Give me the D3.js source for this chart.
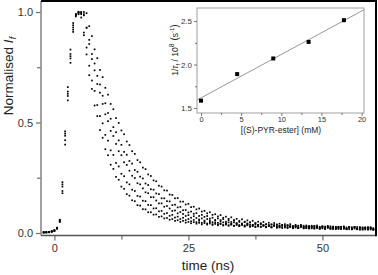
<!DOCTYPE html>
<html>
<head>
<meta charset="utf-8">
<script src="https://cdnjs.cloudflare.com/ajax/libs/d3/7.8.5/d3.min.js"></script>
<style>
body { margin: 0; background: #fff; }
svg { display: block; font-family: "Liberation Sans", Arial, sans-serif; }
</style>
</head>
<body>
<div id="chart"></div>
<script>
// time channels (ns)
var times = [-2, -1.5, -1, -0.5, 0, 0.5, 1, 1.5, 2, 2.5, 3, 3.5,
    4, 4.5, 5,
    5.5, 6, 6.5, 7, 7.5, 8, 8.5, 9, 9.5, 10,
    10.5, 11, 11.5, 12, 12.5, 13, 13.5, 14, 14.5, 15,
    15.5, 16, 16.5, 17, 17.5, 18, 18.5, 19, 19.5, 20,
    20.5, 21, 21.5, 22, 22.5, 23, 23.5, 24, 24.5, 25,
    25.5, 26, 26.5, 27, 27.5, 28, 28.5, 29, 29.5, 30,
    30.5, 31, 31.5, 32, 32.5, 33, 33.5, 34, 34.5, 35,
    35.5, 36, 36.5, 37, 37.5, 38, 38.5, 39, 39.5, 40,
    40.5, 41, 41.5, 42, 42.5, 43, 43.5, 44, 44.5, 45,
    45.5, 46, 46.5, 47, 47.5, 48, 48.5, 49, 49.5, 50,
    50.5, 51, 51.5, 52, 52.5, 53, 53.5, 54, 54.5, 55,
    55.5, 56, 56.5, 57, 57.5, 58, 58.5, 59, 59.5, 60];

// normalised intensity, one array per concentration
var decay1 = [0.003, 0.004, 0.004, 0.007, 0.010, 0.022, 0.060, 0.23, 0.46, 0.66, 0.83, 0.95,
    0.990, 1.000, 0.975,
    0.895, 0.808, 0.714, 0.652, 0.577, 0.529, 0.466, 0.431, 0.379, 0.352,
    0.309, 0.290, 0.254, 0.241, 0.210, 0.200, 0.176, 0.169, 0.148, 0.144,
    0.126, 0.124, 0.108, 0.107, 0.094, 0.094, 0.083, 0.084, 0.073, 0.075,
    0.066, 0.068, 0.060, 0.063, 0.055, 0.058, 0.050, 0.055, 0.047, 0.050,
    0.044, 0.049, 0.042, 0.046, 0.039, 0.045, 0.038, 0.043, 0.036, 0.041,
    0.035, 0.040, 0.034, 0.038, 0.033, 0.038, 0.032, 0.036, 0.031, 0.036,
    0.029, 0.035, 0.028, 0.034, 0.027, 0.033, 0.027, 0.033, 0.026, 0.032,
    0.025, 0.032, 0.024, 0.031, 0.024, 0.030, 0.023, 0.030, 0.022, 0.029,
    0.022, 0.029, 0.021, 0.028, 0.021, 0.027, 0.020, 0.027, 0.020, 0.027,
    0.019, 0.026, 0.019, 0.026, 0.018, 0.026, 0.018, 0.025, 0.018, 0.025,
    0.017, 0.025, 0.017, 0.024, 0.016, 0.024, 0.016, 0.023, 0.016, 0.023];

var decay2 = [0.002, 0.003, 0.005, 0.006, 0.012, 0.019, 0.055, 0.21, 0.44, 0.64, 0.81, 0.94,
    0.985, 0.998, 0.990,
    0.907, 0.839, 0.757, 0.690, 0.643, 0.579, 0.529, 0.496, 0.444, 0.418,
    0.374, 0.353, 0.317, 0.301, 0.268, 0.257, 0.229, 0.220, 0.196, 0.190,
    0.168, 0.165, 0.146, 0.144, 0.127, 0.126, 0.111, 0.112, 0.098, 0.100,
    0.087, 0.090, 0.078, 0.082, 0.070, 0.074, 0.063, 0.069, 0.058, 0.063,
    0.053, 0.059, 0.049, 0.055, 0.046, 0.052, 0.043, 0.050, 0.040, 0.047,
    0.039, 0.044, 0.036, 0.044, 0.035, 0.042, 0.033, 0.040, 0.032, 0.039,
    0.031, 0.038, 0.030, 0.037, 0.029, 0.036, 0.028, 0.035, 0.027, 0.034,
    0.026, 0.034, 0.025, 0.033, 0.024, 0.032, 0.024, 0.031, 0.023, 0.031,
    0.022, 0.030, 0.022, 0.030, 0.021, 0.029, 0.021, 0.028, 0.020, 0.028,
    0.020, 0.027, 0.019, 0.027, 0.019, 0.026, 0.018, 0.026, 0.018, 0.026,
    0.017, 0.025, 0.017, 0.025, 0.016, 0.024, 0.016, 0.024, 0.016, 0.024];

var decay3 = [0.004, 0.002, 0.004, 0.008, 0.011, 0.024, 0.050, 0.19, 0.42, 0.62, 0.79, 0.93,
    0.990, 1.000, 0.995,
    0.985, 0.929, 0.855, 0.787, 0.736, 0.674, 0.635, 0.584, 0.537, 0.506,
    0.462, 0.439, 0.403, 0.370, 0.352, 0.320, 0.308, 0.282, 0.259, 0.249,
    0.225, 0.220, 0.202, 0.184, 0.180, 0.162, 0.162, 0.147, 0.134, 0.134,
    0.119, 0.122, 0.111, 0.100, 0.102, 0.089, 0.095, 0.086, 0.077, 0.081,
    0.069, 0.076, 0.068, 0.061, 0.066, 0.056, 0.063, 0.056, 0.049, 0.056,
    0.046, 0.054, 0.048, 0.042, 0.048, 0.039, 0.048, 0.042, 0.036, 0.043,
    0.034, 0.043, 0.037, 0.031, 0.039, 0.030, 0.039, 0.034, 0.028, 0.036,
    0.027, 0.036, 0.031, 0.025, 0.033, 0.025, 0.034, 0.029, 0.023, 0.031,
    0.023, 0.032, 0.027, 0.022, 0.029, 0.021, 0.031, 0.025, 0.020, 0.028,
    0.019, 0.029, 0.024, 0.019, 0.026, 0.018, 0.028, 0.023, 0.017, 0.025,
    0.017, 0.027, 0.021, 0.016, 0.024, 0.016, 0.025, 0.020, 0.015, 0.023];

var decay4 = [0.002, 0.004, 0.003, 0.006, 0.009, 0.020, 0.058, 0.22, 0.45, 0.63, 0.80, 0.92,
    0.985, 0.995, 1.000,
    0.990, 0.929, 0.874, 0.810, 0.767, 0.711, 0.672, 0.621, 0.587, 0.543,
    0.517, 0.479, 0.456, 0.419, 0.399, 0.367, 0.354, 0.326, 0.314, 0.285,
    0.277, 0.255, 0.247, 0.224, 0.217, 0.198, 0.196, 0.179, 0.176, 0.157,
    0.157, 0.144, 0.143, 0.126, 0.128, 0.116, 0.118, 0.103, 0.104, 0.093,
    0.097, 0.087, 0.090, 0.077, 0.082, 0.073, 0.077, 0.065, 0.069, 0.059,
    0.066, 0.058, 0.063, 0.051, 0.058, 0.050, 0.056, 0.045, 0.050, 0.041,
    0.049, 0.042, 0.048, 0.036, 0.044, 0.037, 0.044, 0.034, 0.039, 0.031,
    0.039, 0.033, 0.039, 0.028, 0.037, 0.030, 0.036, 0.027, 0.032, 0.025,
    0.033, 0.027, 0.033, 0.023, 0.032, 0.025, 0.032, 0.022, 0.028, 0.021,
    0.029, 0.023, 0.030, 0.019, 0.028, 0.022, 0.028, 0.019, 0.025, 0.017,
    0.026, 0.020, 0.027, 0.016, 0.025, 0.019, 0.026, 0.016, 0.022, 0.015];

var decay5 = [0.003, 0.003, 0.005, 0.007, 0.013, 0.023, 0.052, 0.18, 0.40, 0.60, 0.77, 0.91,
    0.980, 0.990, 0.998,
    1.000, 0.995, 0.936, 0.891, 0.831, 0.791, 0.738, 0.705, 0.657, 0.626,
    0.584, 0.560, 0.520, 0.498, 0.464, 0.447, 0.414, 0.398, 0.370, 0.358,
    0.330, 0.320, 0.296, 0.289, 0.265, 0.258, 0.238, 0.234, 0.214, 0.210,
    0.193, 0.192, 0.174, 0.172, 0.157, 0.158, 0.142, 0.142, 0.129, 0.132,
    0.117, 0.119, 0.107, 0.111, 0.097, 0.100, 0.089, 0.094, 0.082, 0.085,
    0.075, 0.081, 0.069, 0.074, 0.064, 0.071, 0.059, 0.064, 0.055, 0.062,
    0.051, 0.057, 0.048, 0.055, 0.045, 0.051, 0.042, 0.050, 0.040, 0.046,
    0.038, 0.045, 0.036, 0.042, 0.034, 0.040, 0.032, 0.040, 0.030, 0.037,
    0.029, 0.037, 0.028, 0.034, 0.026, 0.033, 0.025, 0.034, 0.024, 0.031,
    0.023, 0.032, 0.022, 0.029, 0.022, 0.028, 0.021, 0.030, 0.020, 0.027,
    0.019, 0.028, 0.019, 0.026, 0.018, 0.025, 0.018, 0.026, 0.017, 0.024];

var xTicks = [0, 25, 50];
var xMinorTicks = [12.5, 37.5];
var yTicks = [0, 0.5, 1.0];
var yMinorTicks = [0.25, 0.75];

// inset: rate against quencher concentration
var insetConc = [0, 4.5, 9.0, 13.4, 17.8];
var insetRate = [1.585, 1.89, 2.07, 2.26, 2.51];
var insetXTicks = [0, 5, 10, 15, 20];
var insetXMinorTicks = [2.5, 7.5, 12.5, 17.5];
var insetYTicks = [1.5, 2.0, 2.5];
var insetYMinorTicks = [1.75, 2.25];

// ==================================

var w = 378;
var h = 275;

var svg = d3.select("#chart")
    .append("svg")
    .attr("width", w)
    .attr("height", h);

var x = d3.scaleLinear().domain([-2.5, 60]).range([41, 376]);
var y = d3.scaleLinear().domain([0, 1]).range([233, 12]);
var plotTop = 1;
var plotBottom = 235.5;

var axisColor = "#6e6e6e";
var labelColor = "#333";

var styleAxis = function(g, size) {
    g.select(".domain").remove();
    g.selectAll("line").attr("stroke", axisColor).attr("stroke-width", size);
    g.selectAll("text").attr("fill", labelColor).attr("font-family", null);
};

// minor ticks first
svg.append("g")
    .attr("transform", "translate(0," + plotBottom + ")")
    .call(d3.axisBottom(x).tickValues(xMinorTicks).tickSize(4).tickFormat(""))
    .call(styleAxis, 1.2);

svg.append("g")
    .attr("transform", "translate(0," + plotBottom + ")")
    .call(d3.axisBottom(x).tickValues(xTicks).tickSize(5).tickPadding(4))
    .attr("font-size", 11)
    .call(styleAxis, 1.2);

svg.append("g")
    .attr("transform", "translate(41,0)")
    .call(d3.axisLeft(y).tickValues(yMinorTicks).tickSize(4).tickFormat(""))
    .call(styleAxis, 1.2);

svg.append("g")
    .attr("transform", "translate(41,0)")
    .call(d3.axisLeft(y).tickValues(yTicks).tickSize(5).tickPadding(3).tickFormat(d3.format(".1f")))
    .attr("font-size", 11)
    .call(styleAxis, 1.2);

// axis lines and frame
svg.append("line")
    .attr("x1", 41).attr("x2", 41)
    .attr("y1", plotTop).attr("y2", plotBottom)
    .attr("stroke", "#8a8a8a").attr("stroke-width", 1.6);
svg.append("line")
    .attr("x1", 41).attr("x2", 376)
    .attr("y1", plotBottom).attr("y2", plotBottom)
    .attr("stroke", "#555").attr("stroke-width", 1.6);
svg.append("line")
    .attr("x1", 41).attr("x2", 377)
    .attr("y1", plotTop).attr("y2", plotTop)
    .attr("stroke", "#000").attr("stroke-width", 2);
svg.append("line")
    .attr("x1", 376).attr("x2", 376)
    .attr("y1", plotTop).attr("y2", plotBottom + 0.8)
    .attr("stroke", "#000").attr("stroke-width", 2);

// axis titles
svg.append("text")
    .attr("x", 208)
    .attr("y", 270)
    .attr("text-anchor", "middle")
    .attr("font-size", 13.5)
    .attr("fill", "#222")
    .text("time (ns)");

var yTitle = svg.append("text")
    .attr("transform", "translate(13,76) rotate(-90)")
    .attr("text-anchor", "middle")
    .attr("font-size", 13.5)
    .attr("fill", "#222");
yTitle.append("tspan").text("Normalised  ");
yTitle.append("tspan").attr("font-style", "italic").text("I");
yTitle.append("tspan").attr("font-style", "italic").attr("font-size", 9).attr("dy", 3).text("f");

// decay points
var series = [decay1, decay2, decay3, decay4, decay5];
var dots = svg.append("g");
series.forEach(function(values) {
    dots.selectAll(null)
        .data(values)
        .enter()
        .append("rect")
        .attr("x", function(d, i) {
            return x(times[i]) - 0.85;
        })
        .attr("y", function(d) {
            return y(d) - 0.85;
        })
        .attr("width", 1.7)
        .attr("height", 1.7)
        .attr("fill", "#000");
});

// ================ inset ==================

var xi = d3.scaleLinear().domain([-0.5, 20.3]).range([197, 364]);
var yi = d3.scaleLinear().domain([1.443, 2.65]).range([113, 8]);
var inset = svg.append("g");

inset.append("rect")
    .attr("x", 197).attr("y", 8)
    .attr("width", 167).attr("height", 105)
    .attr("fill", "#fff")
    .attr("stroke", "#a0a0a0")
    .attr("stroke-width", 1);

var styleInsetAxis = function(g) {
    g.select(".domain").remove();
    g.selectAll("line").attr("stroke", "#666").attr("stroke-width", 0.9);
    g.selectAll("text").attr("fill", labelColor).attr("font-family", null);
};

inset.append("g")
    .attr("transform", "translate(0,113)")
    .call(d3.axisBottom(xi).tickValues(insetXMinorTicks).tickSize(2).tickFormat(""))
    .call(styleInsetAxis);
inset.append("g")
    .attr("transform", "translate(0,113)")
    .call(d3.axisBottom(xi).tickValues(insetXTicks).tickSize(3).tickPadding(1))
    .attr("font-size", 7.5)
    .call(styleInsetAxis);
inset.append("g")
    .attr("transform", "translate(197,0)")
    .call(d3.axisLeft(yi).tickValues(insetYMinorTicks).tickSize(2).tickFormat(""))
    .call(styleInsetAxis);
inset.append("g")
    .attr("transform", "translate(197,0)")
    .call(d3.axisLeft(yi).tickValues(insetYTicks).tickSize(3).tickPadding(2).tickFormat(d3.format(".1f")))
    .attr("font-size", 8)
    .call(styleInsetAxis);

// least squares line through the inset points
var mx = d3.mean(insetConc);
var my = d3.mean(insetRate);
var sxy = d3.sum(insetConc, function(c, i) { return (c - mx) * (insetRate[i] - my); });
var sxx = d3.sum(insetConc, function(c) { return (c - mx) * (c - mx); });
var slope = sxy / sxx;
var intercept = my - slope * mx;
var lineEnds = xi.domain().map(function(c) {
    return [xi(c), yi(intercept + slope * c)];
});

inset.append("path")
    .attr("d", d3.line()(lineEnds))
    .attr("stroke", "#8c8c8c")
    .attr("stroke-width", 0.9)
    .attr("fill", "none");

inset.selectAll(".pt")
    .data(insetConc)
    .enter()
    .append("rect")
    .attr("class", "pt")
    .attr("x", function(d) { return xi(d) - 2; })
    .attr("y", function(d, i) { return yi(insetRate[i]) - 2; })
    .attr("width", 4)
    .attr("height", 4)
    .attr("fill", "#000");

inset.append("text")
    .attr("x", 281)
    .attr("y", 133)
    .attr("text-anchor", "middle")
    .attr("font-size", 8.5)
    .attr("fill", "#222")
    .text("[(S)-PYR-ester] (mM)");

var insetY = inset.append("text")
    .attr("transform", "translate(178,50) rotate(-90)")
    .attr("text-anchor", "middle")
    .attr("font-size", 8.5)
    .attr("fill", "#222");
insetY.append("tspan").text("1/");
insetY.append("tspan").attr("font-style", "italic").text("\u03c4");
insetY.append("tspan").attr("font-size", 6).attr("dy", 2).text("f");
insetY.append("tspan").attr("dy", -2).text(" / 10");
insetY.append("tspan").attr("font-size", 7).attr("dy", -4).text("8");
insetY.append("tspan").attr("dy", 4).attr("font-size", 10).text(" (");
insetY.append("tspan").text("s");
insetY.append("tspan").attr("font-size", 6).attr("dy", -4).text("-1");
insetY.append("tspan").attr("dy", 4).attr("font-size", 10).text(")");
</script>
</body>
</html>
